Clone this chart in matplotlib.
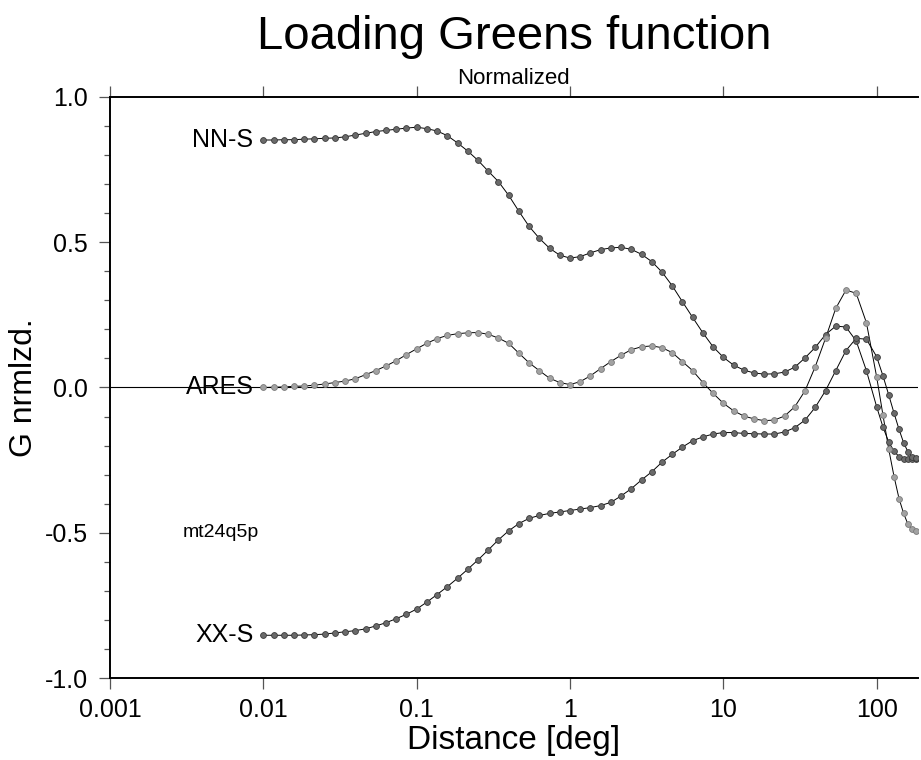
import numpy as np
import matplotlib
matplotlib.use('Agg')
import matplotlib.pyplot as plt
from matplotlib.ticker import FixedLocator, FixedFormatter, MultipleLocator

plt.rcParams['font.family'] = ['Liberation Sans', 'DejaVu Sans']

## distance grid: 15 steps per decade from 0.01 to 100, then every 10 deg up to 180
mant = [1.0, 1.1659, 1.3594, 1.5849, 1.8478, 2.1544, 2.5119, 2.9286, 3.4145,
        3.9811, 4.6416, 5.4117, 6.3096, 7.3564, 8.5770]
decades = [0.01, 0.1, 1.0, 10.0]
tail = [100.0, 110.0, 120.0, 130.0, 140.0, 150.0, 160.0, 170.0, 180.0]
dist = [d * m for d in decades for m in mant] + tail

nn_s = [0.851, 0.851, 0.852, 0.852, 0.854, 0.855, 0.857, 0.858, 0.862, 0.868,
        0.874, 0.880, 0.884, 0.888, 0.892, 0.895, 0.890, 0.882, 0.866, 0.841,
        0.813, 0.781, 0.744, 0.708, 0.661, 0.606, 0.554, 0.513, 0.479, 0.455,
        0.445, 0.450, 0.463, 0.474, 0.480, 0.482, 0.475, 0.458, 0.433, 0.397,
        0.350, 0.295, 0.241, 0.188, 0.140, 0.104, 0.077, 0.060, 0.050, 0.046,
        0.047, 0.053, 0.070, 0.102, 0.138, 0.182, 0.211, 0.208, 0.160, 0.058,
        -0.066, -0.136, -0.188, -0.219, -0.238, -0.246, -0.246, -0.246, -0.245]

ares = [0.000, 0.001, 0.002, 0.004, 0.005, 0.008, 0.012, 0.017, 0.022, 0.030,
        0.044, 0.058, 0.074, 0.092, 0.113, 0.133, 0.152, 0.168, 0.179, 0.185,
        0.188, 0.189, 0.183, 0.170, 0.152, 0.118, 0.085, 0.058, 0.032, 0.017,
        0.010, 0.020, 0.040, 0.065, 0.089, 0.111, 0.130, 0.140, 0.143, 0.137,
        0.120, 0.089, 0.058, 0.017, -0.020, -0.054, -0.080, -0.098, -0.108, -0.114,
        -0.112, -0.098, -0.066, -0.011, 0.072, 0.169, 0.272, 0.335, 0.324, 0.223,
        0.037, -0.095, -0.213, -0.307, -0.382, -0.433, -0.470, -0.488, -0.494]

xx_s = [-0.852, -0.852, -0.852, -0.852, -0.851, -0.850, -0.848, -0.844, -0.840, -0.836,
        -0.830, -0.820, -0.809, -0.795, -0.780, -0.762, -0.738, -0.712, -0.685, -0.656,
        -0.625, -0.593, -0.559, -0.524, -0.493, -0.468, -0.450, -0.440, -0.433, -0.428,
        -0.423, -0.418, -0.413, -0.406, -0.395, -0.373, -0.348, -0.318, -0.290, -0.257,
        -0.230, -0.205, -0.183, -0.170, -0.160, -0.155, -0.155, -0.158, -0.159, -0.160,
        -0.160, -0.153, -0.138, -0.112, -0.068, -0.011, 0.058, 0.127, 0.169, 0.166,
        0.106, 0.040, -0.026, -0.089, -0.144, -0.190, -0.221, -0.238, -0.244]

x_ticks = [0.001, 0.01, 0.1, 1, 10, 100]
x_labels = ['0.001', '0.01', '0.1', '1', '10', '100']
y_ticks = [-1.0, -0.5, 0.0, 0.5, 1.0]
y_labels = ['-1.0', '-0.5', '0.0', '0.5', '1.0']

fig = plt.figure(figsize=(9.21, 7.6), dpi=100)
ax = fig.add_axes([0.1194, 0.1075, 0.8769, 0.7653])

ax.axhline(0.0, color='black', lw=0.8, zorder=1)

series = [(nn_s, 'NN-S', '#6a6a6a', '#3a3a3a'),
          (ares, 'ARES', '#a2a2a2', '#7a7a7a'),
          (xx_s, 'XX-S', '#6a6a6a', '#3a3a3a')]
for vals, name, fc, ec in series:
    ax.plot(dist, vals, color='black', lw=0.7, zorder=2)
    ax.plot(dist, vals, ls='none', marker='o', ms=4.2, mfc=fc, mec=ec, mew=0.6, zorder=3)
    ax.annotate(name, (dist[0], vals[0]), xytext=(-7, 0), textcoords='offset points',
                ha='right', va='center', fontsize=18)

ax.text(0.003, -0.5, 'mt24q5p', ha='left', va='center', fontsize=14)

ax.set_xscale('log')
ax.set_xlim(0.001, 185)
ax.set_ylim(-1.0, 1.0)

ax.xaxis.set_major_locator(FixedLocator(x_ticks))
ax.xaxis.set_major_formatter(FixedFormatter(x_labels))
ax.xaxis.set_minor_locator(FixedLocator([]))
ax.yaxis.set_major_locator(FixedLocator(y_ticks))
ax.yaxis.set_major_formatter(FixedFormatter(y_labels))
ax.yaxis.set_minor_locator(MultipleLocator(0.1))

ax.spines['right'].set_visible(False)
for s in ['left', 'bottom', 'top']:
    ax.spines[s].set_linewidth(1.4)

ax.tick_params(which='major', direction='out', length=8, width=0.9, color='#555555',
               labelsize=18, pad=8, top=True, right=False)
ax.tick_params(which='minor', direction='out', length=4, width=0.9, color='#555555',
               top=False, right=False)
ax.tick_params(axis='x', which='major', pad=6)

ax.set_ylabel('G nrmlzd.', fontsize=23, labelpad=4)

ax.set_title('Normalized', fontsize=16, pad=9)
fig.text(0.558, 0.935, 'Loading Greens function', ha='center', va='baseline', fontsize=34)
fig.text(0.558, 0.014, 'Distance [deg]', ha='center', va='baseline', fontsize=24)

fig.savefig('out.png', dpi=100)
